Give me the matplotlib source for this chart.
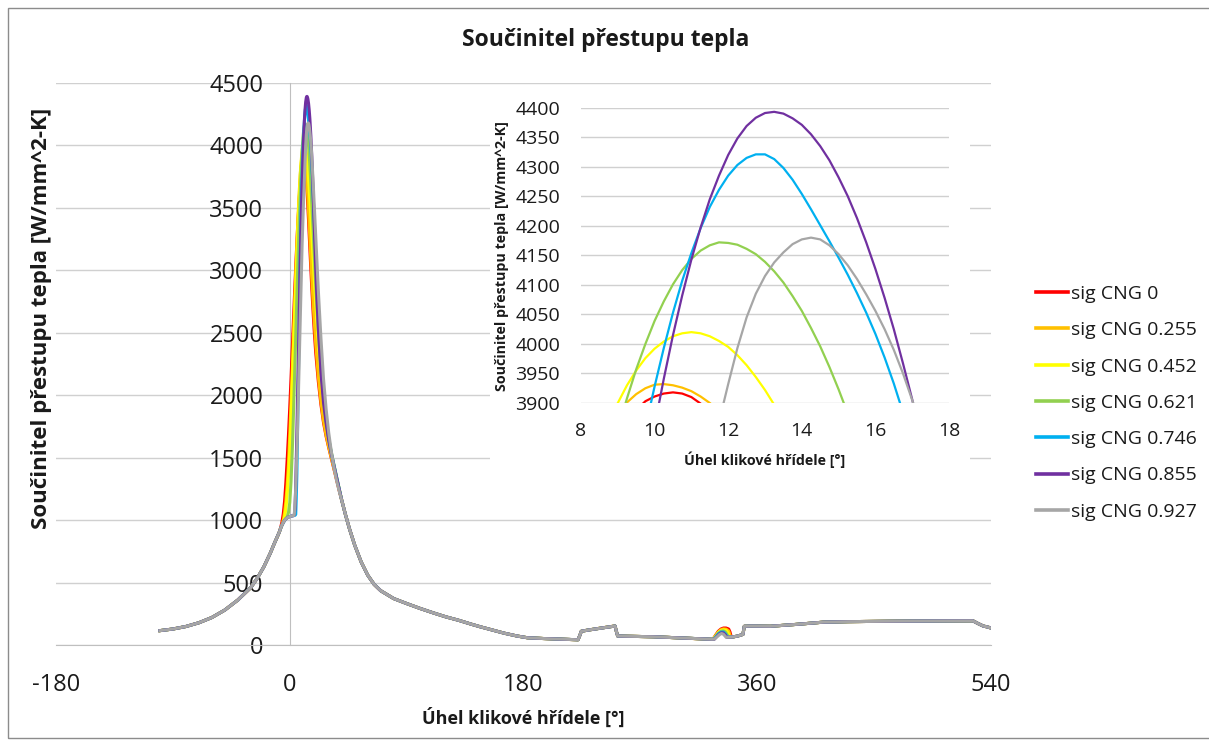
import matplotlib
matplotlib.use("Agg")
import matplotlib.pyplot as plt
from matplotlib.patches import Rectangle
from matplotlib.lines import Line2D

# ---------------------------------------------------------------- data
series_labels = ["sig CNG 0", "sig CNG 0.255", "sig CNG 0.452", "sig CNG 0.621",
                 "sig CNG 0.746", "sig CNG 0.855", "sig CNG 0.927"]
series_colors = ["#ff0000", "#ffc000", "#ffff00", "#92d050",
                 "#00b0f0", "#7030a0", "#a6a6a6"]

# compression stroke (shared by all fuels)
compression_deg = [-100, -90, -80, -70, -60, -50, -40, -30, -25, -20, -15, -12, -9]
compression_htc = [115, 128, 148, 178, 220, 280, 360, 460, 535, 625, 735, 810, 880]

# combustion window, one pair of lists per fuel blend
burn_deg_s0 = [-8, -7, -6, -5, -4, -3, -2, -1, 0, 1, 2, 3, 4, 5, 6, 7, 8,
               8.5, 9, 9.5, 9.75, 10, 10.25, 10.5, 10.75, 11, 11.25, 11.5, 11.75, 12, 12.5, 13, 13.5,
               14, 15, 16, 17, 18, 19, 20,
               22, 24, 26, 28, 30, 32, 34, 36, 38]
burn_htc_s0 = [905, 940, 985, 1050, 1150, 1300, 1480, 1680, 1900, 2140, 2390, 2640, 2890, 3120, 3330, 3520, 3690,
               3770, 3838, 3888, 3903, 3911, 3916, 3918, 3916, 3910, 3899, 3884, 3864, 3840, 3778, 3698, 3605,
               3500, 3280, 3060, 2850, 2660, 2490, 2340,
               2110, 1925, 1780, 1670, 1580, 1495, 1410, 1325, 1240]

burn_deg_s255 = [-8, -7, -6, -5, -4, -3, -2, -1, 0, 1, 2, 3, 4, 5, 6, 7, 8,
                 8.5, 9, 9.25, 9.5, 9.75, 10, 10.25, 10.5, 10.75, 11, 11.25, 11.5, 11.75, 12, 12.5, 13, 13.5,
                 14, 15, 16, 17, 18, 19, 20,
                 22, 24, 26, 28, 30, 32, 34, 36, 38]
burn_htc_s255 = [905, 935, 962, 1000, 1060, 1150, 1280, 1450, 1680, 1940, 2220, 2510, 2800, 3080, 3340, 3570, 3762,
                 3831, 3882, 3901, 3915, 3925, 3931, 3932, 3930, 3926, 3920, 3911, 3900, 3887, 3866, 3815, 3745, 3660,
                 3565, 3355, 3140, 2930, 2740, 2570, 2410,
                 2150, 1950, 1795, 1680, 1585, 1500, 1415, 1330, 1245]

burn_deg_s452 = [-8, -7, -6, -5, -4, -3, -2, -1, 0, 1, 2, 3, 4, 5, 6, 7, 8,
                 8.5, 9, 9.25, 9.5, 9.75, 10, 10.25, 10.5, 10.75, 11, 11.25, 11.5, 11.75, 12,
                 12.25, 12.5, 12.75, 13, 13.25, 13.5,
                 14, 15, 16, 17, 18, 19, 20,
                 22, 24, 26, 28, 30, 32, 34, 36, 38]
burn_htc_s452 = [905, 935, 960, 982, 1020, 1090, 1200, 1350, 1550, 1820, 2110, 2410, 2710, 3000, 3275, 3525, 3740,
                 3828, 3900, 3930, 3955, 3976, 3992, 4004, 4013, 4018, 4020, 4018, 4013, 4005, 3995,
                 3981, 3964, 3944, 3922, 3897, 3868,
                 3803, 3650, 3470, 3280, 3090, 2910, 2740,
                 2420, 2160, 1950, 1780, 1640, 1530, 1435, 1345, 1252]

burn_deg_s621 = [-8, -7, -6, -5, -4, -3, -2, -1, 0, 1, 2, 3, 4, 5, 6, 7, 8,
                 8.5, 9, 9.25, 9.5, 9.75, 10, 10.25, 10.5, 10.75, 11, 11.25, 11.5, 11.75, 12,
                 12.25, 12.5, 12.75, 13, 13.25, 13.5, 13.75, 14, 14.25, 14.5, 14.75, 15, 15.25, 15.5, 16,
                 17, 18, 19, 20,
                 22, 24, 26, 28, 30, 32, 34, 36, 38]
burn_htc_s621 = [905, 935, 960, 980, 998, 1010, 1025, 1060, 1140, 1310, 1570, 1900, 2260, 2620, 2970, 3300, 3600,
                 3734, 3855, 3908, 3957, 4000, 4039, 4072, 4101, 4125, 4144, 4158, 4167, 4172, 4171,
                 4168, 4161, 4152, 4139, 4123, 4104, 4081, 4056, 4027, 3996, 3961, 3923, 3882, 3838, 3745,
                 3540, 3320, 3100, 2890,
                 2520, 2200, 1960, 1790, 1655, 1545, 1445, 1350, 1255]

burn_deg_s746 = [-8, -7, -6, -5, -4, -3, -2, -1, 0, 1, 2, 3, 4,
                 4.6, 5, 5.5, 6, 6.5, 7, 7.5, 8, 8.5, 9, 9.5,
                 9.75, 10, 10.25, 10.5, 10.75, 11, 11.25, 11.5, 11.75, 12, 12.25, 12.5, 12.75,
                 13, 13.25, 13.5, 13.75, 14, 14.25, 14.5, 14.75, 15, 15.25, 15.5, 15.75,
                 16, 16.25, 16.5, 16.75, 17, 17.5, 18,
                 19, 20, 21, 22,
                 24, 26, 28, 30, 32, 34, 36, 38]
burn_htc_s746 = [905, 935, 960, 980, 998, 1010, 1018, 1024, 1028, 1031, 1034, 1036, 1038,
                 1045, 1170, 1370, 1680, 2040, 2410, 2770, 3100, 3390, 3620, 3785,
                 3858, 3928, 3993, 4053, 4107, 4154, 4196, 4232, 4261, 4285, 4303, 4315, 4321,
                 4321, 4313, 4298, 4278, 4254, 4228, 4201, 4174, 4146, 4117, 4086, 4053,
                 4017, 3977, 3933, 3884, 3832, 3715, 3595,
                 3350, 3110, 2880, 2670,
                 2290, 2000, 1800, 1650, 1535, 1440, 1345, 1252]

burn_deg_s855 = [-8, -7, -6, -5, -4, -3, -2, -1, 0, 1, 2, 3,
                 3.5, 4, 4.5, 5, 5.5, 6, 6.5, 7, 7.5, 8, 8.5, 9, 9.5,
                 9.75, 10, 10.25, 10.5, 10.75, 11, 11.25, 11.5, 11.75, 12, 12.25, 12.5, 12.75,
                 13, 13.25, 13.5, 13.75, 14, 14.25, 14.5, 14.75, 15, 15.25, 15.5, 15.75,
                 16, 16.25, 16.5, 16.75, 17, 17.25, 17.5, 18,
                 19, 20, 21, 22,
                 24, 26, 28, 30, 32, 34, 36, 38]
burn_htc_s855 = [905, 935, 960, 980, 998, 1010, 1018, 1024, 1028, 1031, 1034, 1036,
                 1045, 1086, 1236, 1456, 1706, 1976, 2256, 2536, 2806, 3056, 3286, 3496, 3686,
                 3775, 3861, 3941, 4015, 4082, 4143, 4197, 4245, 4285, 4320, 4348, 4369, 4383,
                 4391, 4393, 4390, 4382, 4371, 4355, 4335, 4311, 4282, 4250, 4213, 4172,
                 4127, 4078, 4025, 3967, 3906, 3840, 3770, 3617,
                 3310, 3020, 2760, 2530,
                 2180, 1940, 1775, 1640, 1530, 1435, 1342, 1250]

burn_deg_s927 = [-8, -7, -6, -5, -4, -3, -2, -1, 0, 1, 2, 3,
                 3.5, 4, 4.5, 5, 5.5, 6, 6.5, 7, 7.5, 8, 8.5, 9, 9.5, 10, 10.5, 11,
                 11.25, 11.5, 11.75, 12, 12.25, 12.5, 12.75, 13, 13.25, 13.5, 13.75,
                 14, 14.25, 14.5, 14.75, 15, 15.25, 15.5, 15.75, 16, 16.25, 16.5, 16.75,
                 17, 17.25, 17.5, 18,
                 19, 20, 21, 22,
                 24, 26, 28, 30, 32, 34, 36, 38]
burn_htc_s927 = [905, 935, 960, 980, 998, 1010, 1018, 1024, 1028, 1031, 1034, 1036,
                 1045, 1120, 1230, 1370, 1540, 1730, 1940, 2160, 2380, 2600, 2810, 3010, 3200, 3370, 3520, 3660,
                 3730, 3800, 3868, 3932, 3993, 4045, 4085, 4115, 4138, 4155, 4169,
                 4177, 4180, 4177, 4167, 4152, 4133, 4110, 4084, 4056, 4025, 3990, 3950,
                 3905, 3858, 3810, 3710,
                 3490, 3270, 3050, 2840,
                 2460, 2130, 1890, 1700, 1550, 1425, 1320, 1235]

# expansion and exhaust (shared)
expansion_deg = [40, 43, 46, 50, 55, 60, 65, 70, 80, 90, 100, 110, 120, 130, 140,
                 147, 155, 165, 175, 183, 195, 210, 222, 223.5, 224.5, 230, 240, 249, 250.5,
                 251.5, 252.5, 260, 280, 300, 315, 325]
expansion_htc = [1160, 1040, 930, 800, 665, 560, 485, 435, 372, 332, 294, 259, 226, 198, 166,
                 145, 123, 95, 72, 58, 52, 46, 42, 80, 110, 120, 136, 150, 152,
                 110, 72, 70, 66, 57, 50, 46]

# short hump near gas exchange TDC, per fuel blend
hump_deg_s0 = [326, 328, 330, 332, 334, 336, 338, 339, 340]
hump_htc_s0 = [48, 80, 110, 128, 136, 136, 128, 105, 65]
hump_deg_s255 = [326, 328, 330, 332, 334, 336, 338, 339, 339.5]
hump_htc_s255 = [47, 76, 104, 122, 129, 127, 112, 80, 64]
hump_deg_s452 = [326, 328, 330, 332, 334, 336, 337.5, 338.5]
hump_htc_s452 = [47, 72, 99, 116, 121, 117, 95, 64]
hump_deg_s621 = [326.5, 328, 330, 332, 334, 335.5, 337, 338]
hump_htc_s621 = [47, 68, 94, 110, 113, 104, 80, 63]
hump_deg_s746 = [326.5, 328.5, 330, 332, 334, 335.5, 337]
hump_htc_s746 = [47, 68, 88, 103, 104, 88, 63]
hump_deg_s855 = [327, 329, 331, 332.5, 334, 335.5, 336.5]
hump_htc_s855 = [47, 70, 90, 98, 96, 80, 62]
hump_deg_s927 = [327, 329, 331, 332.5, 334, 335, 336]
hump_htc_s927 = [47, 66, 84, 92, 86, 74, 62]

# intake stroke (shared)
intake_deg = [341, 345, 349, 350, 355, 370, 390, 411, 430, 460, 500, 526, 530, 534, 537, 540]
intake_htc = [64, 72, 85, 150, 152, 150, 165, 183, 187, 190, 193, 194, 172, 152, 145, 136]

burn_parts = [(burn_deg_s0, burn_htc_s0), (burn_deg_s255, burn_htc_s255),
              (burn_deg_s452, burn_htc_s452), (burn_deg_s621, burn_htc_s621),
              (burn_deg_s746, burn_htc_s746), (burn_deg_s855, burn_htc_s855),
              (burn_deg_s927, burn_htc_s927)]
hump_parts = [(hump_deg_s0, hump_htc_s0), (hump_deg_s255, hump_htc_s255),
              (hump_deg_s452, hump_htc_s452), (hump_deg_s621, hump_htc_s621),
              (hump_deg_s746, hump_htc_s746), (hump_deg_s855, hump_htc_s855),
              (hump_deg_s927, hump_htc_s927)]

curves = []
for (bd, bh), (hd, hh) in zip(burn_parts, hump_parts):
    deg = compression_deg + bd + expansion_deg + hd + intake_deg
    htc = compression_htc + bh + expansion_htc + hh + intake_htc
    curves.append((deg, htc))

main_xticks = [-180, 0, 180, 360, 540]
main_yticks = [0, 500, 1000, 1500, 2000, 2500, 3000, 3500, 4000, 4500]
zoom_xticks = [8, 10, 12, 14, 16, 18]
zoom_yticks = [3900, 3950, 4000, 4050, 4100, 4150, 4200, 4250, 4300, 4350, 4400]

title_text = "Součinitel přestupu tepla"
xlabel_text = "Úhel klikové hřídele [°]"
ylabel_text = "Součinitel přestupu tepla [W/mm^2-K]"

# ---------------------------------------------------------------- layout
W, H = 1209, 742
plt.rcParams['font.family'] = ['Open Sans', 'DejaVu Sans']
plt.rcParams['axes.unicode_minus'] = False
fig = plt.figure(figsize=(W / 100, H / 100), dpi=100)
fig.patch.set_facecolor("white")


def fx(px):
    return px / W


def fy(py):
    return 1 - py / H


GRID = "#d0d0d0"
AXIS = "#bfbfbf"
TXT = "#1a1a1a"

# chart frame
fig.add_artist(Rectangle((fx(7.5), fy(737.5)), fx(1230), (737.5 - 7.5) / H,
                         transform=fig.transFigure, fill=False,
                         edgecolor="#8c8c8c", lw=1.0, zorder=0))

# main plot
ax = fig.add_axes([fx(56), fy(645), (991 - 56) / W, (645 - 83) / H])
for (deg, htc), col in zip(curves, series_colors):
    ax.plot(deg, htc, color=col, lw=2.2, solid_joinstyle="round", zorder=3)
ax.set_xlim(-180, 540)
ax.set_ylim(0, 4500)
ax.set_xticks(main_xticks)
ax.set_yticks(main_yticks)
ax.yaxis.grid(True, color=GRID, lw=1.0)
ax.set_axisbelow(True)
for s in ("top", "right"):
    ax.spines[s].set_visible(False)
ax.spines["left"].set_position(("data", 0))
ax.spines["left"].set_color(AXIS)
ax.spines["bottom"].set_color(AXIS)
ax.tick_params(axis="both", length=0, labelsize=17, colors=TXT)
ax.tick_params(axis="y", pad=19)
ax.tick_params(axis="x", pad=20)

fig.text(fx(606), fy(40), title_text, ha="center", va="center",
         fontsize=16.5, fontweight="bold", color=TXT)
fig.text(fx(523), fy(718), xlabel_text, ha="center", va="center",
         fontsize=13, fontweight="bold", color=TXT)
fig.text(fx(42), fy(318), ylabel_text, ha="center", va="center", rotation=90,
         fontsize=16, fontweight="bold", color=TXT)

# white panel carrying the zoomed view
fig.add_artist(Rectangle((fx(490), fy(478)), (970 - 490) / W, (478 - 92) / H,
                         transform=fig.transFigure, facecolor="white",
                         edgecolor="none", zorder=1))

axz = fig.add_axes([fx(581), fy(403), (949 - 581) / W, (403 - 107.7) / H], zorder=2)
axz.patch.set_alpha(0)
for (deg, htc), col in zip(curves, series_colors):
    axz.plot(deg, htc, color=col, lw=1.6, solid_joinstyle="round", zorder=3)
axz.set_xlim(8, 18)
axz.set_ylim(3900, 4400)
axz.set_xticks(zoom_xticks)
axz.set_yticks(zoom_yticks)
axz.yaxis.grid(True, color=GRID, lw=1.0)
axz.set_axisbelow(True)
for s in axz.spines.values():
    s.set_visible(False)
axz.tick_params(axis="both", length=0, labelsize=14, colors=TXT)
axz.tick_params(axis="y", pad=15)
axz.tick_params(axis="x", pad=14)
fig.text(fx(765), fy(460), xlabel_text, ha="center", va="center",
         fontsize=10.3, fontweight="bold", color=TXT, zorder=3)
fig.text(fx(502), fy(256), ylabel_text, ha="center", va="center", rotation=90,
         fontsize=10.3, fontweight="bold", color=TXT, zorder=3)

# legend
handles = [Line2D([], [], color=c, lw=2.6) for c in series_colors]
fig.legend(handles, series_labels, loc="upper left",
           bbox_to_anchor=(fx(1036), fy(285)), frameon=False, fontsize=14,
           handlelength=1.65, handletextpad=0.15, labelspacing=0.94,
           borderpad=0, borderaxespad=0, labelcolor=TXT)

fig.savefig("out.png", dpi=100, facecolor="white")
